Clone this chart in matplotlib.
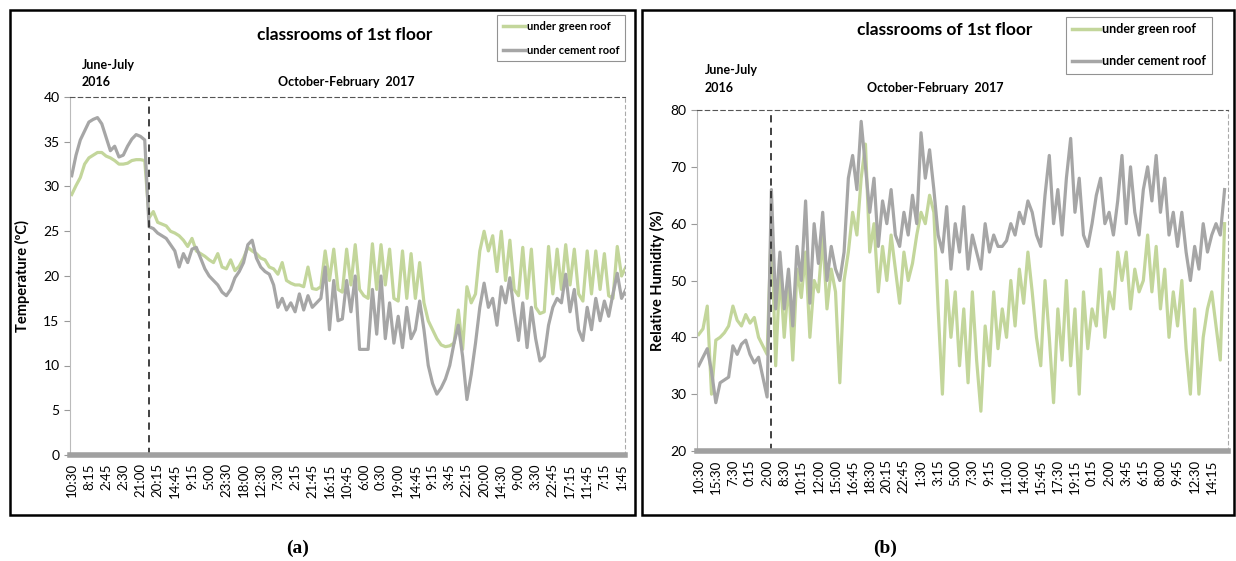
import matplotlib.pyplot as plt
import matplotlib.patches as patches
import numpy as np

plt.rcParams['font.family'] = ['Lato', 'DejaVu Sans']

# x tick labels (time of day)
temp_ticks = ['10:30', '8:15', '2:45', '2:30', '21:00', '20:15', '14:45', '9:15', '5:00',
              '23:30', '18:00', '12:30', '7:30', '2:15', '21:45', '16:15', '10:45', '6:00',
              '0:30', '19:00', '14:45', '9:15', '3:45', '22:15', '20:00', '14:30', '9:00',
              '3:30', '22:45', '17:15', '11:45', '7:15', '1:45']
rh_ticks = ['10:30', '15:30', '7:30', '0:15', '2:00', '8:30', '10:15', '12:00', '15:00',
            '16:45', '18:30', '20:15', '22:45', '1:30', '3:15', '5:00', '7:30', '9:15',
            '11:00', '14:00', '15:45', '17:30', '19:15', '0:15', '2:00', '3:45', '6:15',
            '8:00', '9:45', '12:30', '14:15']

# temperature, one value every quarter of a tick label
temp_green = [29.1, 30.1, 31.0, 32.5, 33.2, 33.5, 33.8, 33.8, 33.4, 33.2, 32.9, 32.5,
              32.5, 32.6, 32.9, 33.0, 33.0, 32.9,
              26.5, 27.2, 26.0, 25.8, 25.6, 25.0, 24.8, 24.5, 24.0, 23.3, 24.2, 22.8,
              22.5, 22.2, 21.8, 21.5, 22.5, 21.0, 20.8, 21.8, 20.6, 21.1, 22.0, 23.2,
              22.8, 22.5, 22.0, 21.8, 21.0, 20.8, 20.2, 21.5, 19.5, 19.2, 19.0, 19.0,
              18.8, 21.0, 18.6, 18.5, 18.8, 22.8, 19.5, 23.0, 18.5, 18.2, 23.0, 19.0,
              23.5, 18.5, 17.8, 17.5, 23.6, 18.5, 23.5, 19.0, 23.0, 17.5, 17.2, 22.8,
              17.5, 22.5, 17.5, 21.5, 17.0, 15.0, 14.0, 13.0, 12.3, 12.1, 12.2, 12.5,
              16.2, 11.8, 18.8, 17.0, 18.0, 22.8, 25.0, 22.8, 24.5, 20.5, 25.0, 19.5,
              24.0, 18.5, 17.8, 23.2, 17.5, 23.0, 16.5, 15.8, 16.0, 23.3, 18.0, 23.0,
              18.5, 23.5, 19.0, 23.0, 18.0, 17.2, 22.8, 18.0, 22.8, 18.5, 22.5, 17.8,
              17.5, 23.3, 20.0, 21.0]
temp_cement = [31.2, 33.5, 35.2, 36.2, 37.2, 37.5, 37.7, 37.0, 35.5, 34.0, 34.5, 33.3,
               33.5, 34.5, 35.3, 35.8, 35.6, 35.2,
               25.5, 25.3, 24.8, 24.5, 24.2, 23.5, 22.8, 21.0, 22.5, 21.5, 23.0, 23.2,
               22.0, 20.8, 20.0, 19.5, 19.0, 18.2, 17.8, 18.5, 19.8, 20.5, 21.5, 23.5,
               24.0, 22.0, 21.0, 20.5, 20.2, 19.0, 16.5, 17.5, 16.2, 17.0, 16.0, 18.0,
               16.2, 17.8, 16.5, 17.0, 17.5, 21.0, 14.0, 19.5, 15.0, 15.2, 19.5, 16.0,
               20.0, 11.8, 11.8, 11.8, 18.5, 13.5, 20.0, 13.0, 17.0, 12.5, 15.5, 12.0,
               16.5, 13.0, 14.0, 17.2, 14.0, 10.0, 8.0, 6.8, 7.5, 8.5, 10.0, 12.5,
               14.5, 11.0, 6.2, 9.0, 12.5, 16.5, 19.2, 16.5, 17.5, 14.5, 18.8, 17.0,
               19.8, 16.0, 12.8, 17.0, 12.0, 16.5, 13.0, 10.5, 11.0, 14.5, 16.5, 17.5,
               17.0, 20.2, 16.0, 18.5, 14.0, 12.8, 16.5, 14.0, 17.5, 15.0, 17.2, 15.5,
               18.0, 20.3, 17.5, 18.5]

# relative humidity, one value every quarter of a tick label
rh_green = [40.5, 41.5, 45.5, 30.0, 39.5, 40.0, 40.8, 42.0, 45.5, 43.0, 42.0, 44.0,
            42.5, 43.5, 40.0, 38.5, 37.0,
            60, 35, 52, 40, 50, 36, 52, 47, 55, 40, 50, 48, 58, 45, 52, 48,
            32, 50, 55, 62, 58, 68, 74, 55, 60, 48, 56, 50, 58, 52, 46, 55,
            50, 53, 58, 62, 60, 65, 62, 45, 30, 50, 40, 48, 35, 45, 32, 48,
            36, 27, 42, 35, 48, 38, 45, 40, 50, 42, 52, 46, 55, 48, 40, 35,
            50, 40, 28.5, 45, 36, 50, 35, 45, 30, 48, 38, 45, 42, 52, 40, 48,
            45, 55, 50, 55, 45, 52, 48, 50, 58, 48, 56, 45, 52, 40, 48, 42,
            50, 38, 30, 45, 30, 40, 45, 48, 42, 36, 60]
rh_cement = [35.0, 36.5, 38.0, 34.0, 28.5, 32.0, 32.5, 33.0, 38.5, 37.0, 38.8, 39.5,
             37.0, 35.5, 36.5, 33.0, 29.5,
             66, 45, 55, 45, 52, 42, 56, 50, 64, 46, 60, 53, 62, 50, 56, 52,
             50, 55, 68, 72, 66, 78, 70, 62, 68, 56, 64, 60, 66, 58, 56, 62,
             58, 65, 60, 76, 68, 73, 66, 58, 55, 63, 52, 60, 55, 63, 52, 58,
             55, 52, 60, 55, 58, 56, 56, 57, 60, 58, 62, 60, 64, 62, 58, 56,
             65, 72, 60, 66, 58, 68, 75, 62, 68, 58, 56, 60, 65, 68, 60, 62,
             58, 64, 72, 60, 70, 62, 58, 66, 70, 64, 72, 62, 68, 58, 62, 56,
             62, 55, 50, 56, 52, 60, 55, 58, 60, 58, 66]

green = '#c3d69b'
grey = '#a6a6a6'
W, H = 1236, 561

fig = plt.figure(figsize=(W / 100, H / 100), dpi=100)

# panel frames
for x0, x1 in [(10, 635), (642, 1234)]:
    fig.patches.append(patches.Rectangle((x0 / W, 1 - 515 / H), (x1 - x0) / W, 505 / H,
                                         transform=fig.transFigure, fill=False,
                                         edgecolor='black', linewidth=1.8))


def style(ax, ticks, ylim, yticks, ylabel, split, legend_box, legend_fs, spacing, hlen):
    ax.set_xticks(np.arange(len(ticks)))
    ax.set_xticklabels(ticks, rotation=90, fontsize=9.5)
    ax.set_ylim(*ylim)
    ax.set_yticks(yticks)
    ax.tick_params(axis='y', labelsize=10, length=4, color='#999999')
    ax.tick_params(axis='x', length=0, pad=6)
    ax.spines['left'].set_color('#bbbbbb')
    ax.spines['bottom'].set_color('#a0a0a0')
    ax.spines['bottom'].set_linewidth(4)
    ax.spines['top'].set_linestyle((0, (4, 3)))
    ax.spines['top'].set_color('#555555')
    ax.spines['top'].set_linewidth(0.8)
    ax.spines['right'].set_linestyle((0, (3, 3)))
    ax.spines['right'].set_color('#aaaaaa')
    ax.spines['right'].set_linewidth(0.8)
    ax.axvline(split, color='#333333', linestyle=(0, (4, 3)), linewidth=1.3)
    ax.set_ylabel(ylabel, fontsize=10.5, fontweight='bold')
    leg = ax.legend(loc='upper left', bbox_to_anchor=legend_box, bbox_transform=fig.transFigure,
                    fancybox=False, edgecolor='#777777', handlelength=hlen, handletextpad=0.2,
                    labelspacing=spacing, borderaxespad=0, borderpad=0.5,
                    prop={'size': legend_fs, 'weight': 'bold'})
    leg.get_frame().set_linewidth(0.8)
    for line in leg.get_lines():
        line.set_linewidth(2.5)


# (a) temperature
ax1 = fig.add_axes([70 / W, 1 - 455 / H, 555 / W, 358 / H])
xt = np.arange(len(temp_green)) * 0.25
ax1.plot(xt, temp_green, color=green, linewidth=2.3, label='under green roof')
ax1.plot(xt, temp_cement, color=grey, linewidth=2.3, label='under cement roof')
ax1.set_xlim(-0.1, 32.2)
style(ax1, temp_ticks, (0, 40), range(0, 41, 5), 'Temperature (ºC)', 4.5,
      (497 / W, 1 - 15 / H), 8, 1.2, 2.0)
ax1.yaxis.set_label_coords(-0.072, 0.5)

# (b) relative humidity
ax2 = fig.add_axes([697 / W, 1 - 451 / H, 531 / W, 341 / H])
xr = np.arange(len(rh_green)) * 0.25
ax2.plot(xr, rh_green, color=green, linewidth=2.3, label='under green roof')
ax2.plot(xr, rh_cement, color=grey, linewidth=2.3, label='under cement roof')
ax2.set_xlim(-0.1, 30.95)
style(ax2, rh_ticks, (20, 80), range(20, 81, 10), 'Relative Humidity (%)', 4.2,
      (1066 / W, 1 - 17 / H), 9, 1.6, 2.2)
ax2.yaxis.set_label_coords(-0.06, 0.5)

# titles and period annotations
fig.text(345 / W, 1 - 35 / H, 'classrooms of 1st floor', ha='center', va='center',
         fontsize=12.5, fontweight='bold')
fig.text(945 / W, 1 - 30 / H, 'classrooms of 1st floor', ha='center', va='center',
         fontsize=12.5, fontweight='bold')
for x, y1, y2 in [(82, 65, 82), (705, 70, 88)]:
    fig.text(x / W, 1 - y1 / H, 'June-July', ha='left', va='center', fontsize=9, fontweight='bold')
    fig.text(x / W, 1 - y2 / H, '2016', ha='left', va='center', fontsize=9, fontweight='bold')
fig.text(346 / W, 1 - 82 / H, 'October-February  2017', ha='center', va='center',
         fontsize=9, fontweight='bold')
fig.text(935 / W, 1 - 88 / H, 'October-February  2017', ha='center', va='center',
         fontsize=9, fontweight='bold')

fig.text(298 / W, 1 - 548 / H, '(a)', ha='center', va='center', fontsize=14,
         fontweight='bold', family='Liberation Serif')
fig.text(885 / W, 1 - 548 / H, '(b)', ha='center', va='center', fontsize=14,
         fontweight='bold', family='Liberation Serif')

fig.savefig('out.png', dpi=100)
